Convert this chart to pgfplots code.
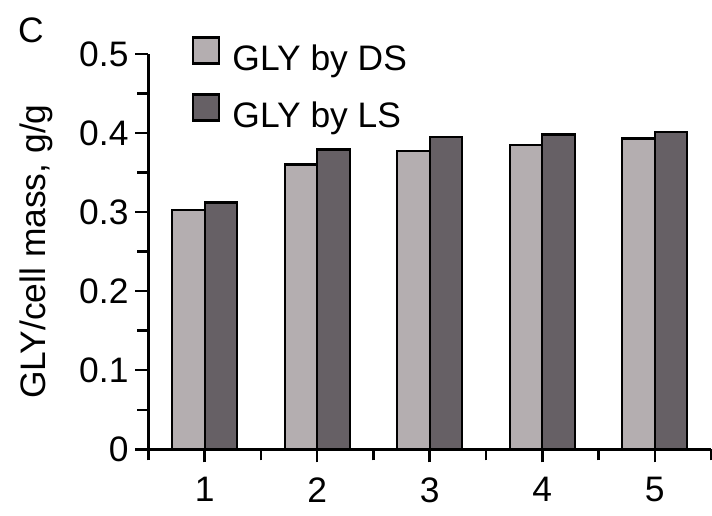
\documentclass[border=0pt]{standalone}
\usepackage{fontspec}
\setmainfont{Liberation Sans}
\usepackage{pgfplots}
\pgfplotsset{compat=1.18}
\definecolor{dsgray}{RGB}{180,174,176}
\definecolor{lsgray}{RGB}{102,96,101}
\newcommand{\bigfont}{\fontsize{17.7bp}{21bp}\selectfont}
\begin{document}
\begin{tikzpicture}
\begin{axis}[
  scale only axis,
  width=281.25bp, height=197.65bp,
  xmin=0.5, xmax=5.5, ymin=0, ymax=0.5,
  axis lines*=left,
  axis line style={line width=1.25bp, black},
  tick align=outside,
  major tick length=6.5bp, minor tick length=5.5bp,
  every tick/.style={black, line width=1.25bp},
  xtick={1,2,3,4,5},
  minor xtick={0.5,1.5,2.5,3.5,4.5,5.5},
  ytick={0,0.1,0.2,0.3,0.4,0.5},
  minor ytick={0.05,0.15,0.25,0.35,0.45},
  /pgf/number format/assume math mode=true,
  yticklabel style={/pgf/number format/fixed, /pgf/number format/precision=1},
  tick label style={font=\bigfont},
  xticklabel style={yshift=-4bp},
  ylabel={GLY/cell mass, g/g},
  every axis y label/.style={at={(axis description cs:0,0.5)}, xshift=-56bp, rotate=90, anchor=center, font=\bigfont},
  ybar=0pt, bar width=16.25bp,
  legend image code/.code={\draw[#1] (0bp,-2.3bp) rectangle (13bp,10.7bp);},
  legend style={at={(axis description cs:0,1)}, anchor=north west, xshift=21.6bp, yshift=9bp,
    draw=none, fill=none, font=\bigfont, row sep=8bp, column sep=4bp, inner sep=0pt},
  legend cell align=left,
  clip=false,
]
\addplot[fill=dsgray, draw=black, line width=1.2bp] coordinates {(1,0.303) (2,0.360) (3,0.377) (4,0.385) (5,0.393)};
\addplot[fill=lsgray, draw=black, line width=1.2bp] coordinates {(1,0.312) (2,0.379) (3,0.395) (4,0.398) (5,0.401)};
\legend{GLY by DS, GLY by LS}
\node[font=\bigfont] at (axis description cs:0,1) [xshift=-58.75bp, yshift=12bp] {C};
\end{axis}
\pgfresetboundingbox
\path (current axis.south west) ++(-74.25bp,-33.35bp) rectangle ++(356bp,258bp);
\end{tikzpicture}
\end{document}
